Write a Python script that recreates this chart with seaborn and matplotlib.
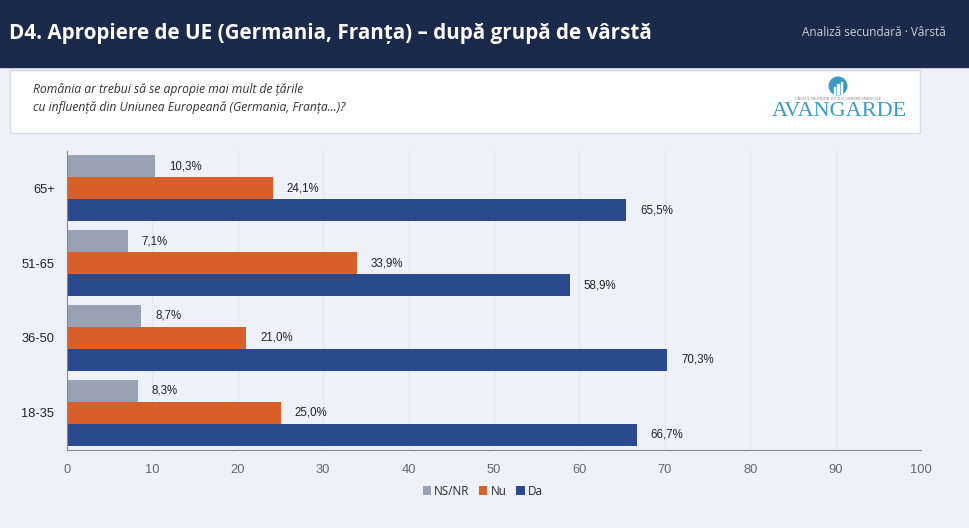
import matplotlib
matplotlib.use('agg')
import matplotlib.pyplot as plt
from matplotlib.patches import Rectangle, Ellipse
import seaborn as sns
import pandas as pd

# data
groups = ['65+', '51-65', '36-50', '18-35']
answers = ['NS/NR', 'Nu', 'Da']
ns_nr = [10.3, 7.1, 8.7, 8.3]
nu = [24.1, 33.9, 21.0, 25.0]
da = [65.5, 58.9, 70.3, 66.7]
x_ticks = list(range(0, 101, 10))

colors = ['#98a2b4', '#d95f2a', '#294a8c']
bg = '#eef2f8'
navy = '#1b2a4a'
teal = '#3a9bc4'

rows = []
for i, g in enumerate(groups):
    for a, vals in zip(answers, [ns_nr, nu, da]):
        rows.append({'grupa': g, 'raspuns': a, 'procent': vals[i]})
df = pd.DataFrame(rows)

sns.set_style('white')
plt.rcParams['font.family'] = ['Liberation Sans', 'DejaVu Sans']
opensans = ['Open Sans', 'DejaVu Sans']

fig = plt.figure(figsize=(9.7, 5.28), dpi=100)
fig.patch.set_facecolor(bg)

# header band
fig.patches.append(Rectangle((0, 1 - 67 / 528), 1, 67 / 528, transform=fig.transFigure,
                             color=navy, zorder=0))
fig.text(9 / 970, 1 - 33 / 528, 'D4. Apropiere de UE (Germania, Franța) – după grupă de vârstă',
         color='white', fontsize=14.9, fontweight='bold', family=opensans,
         va='center', ha='left')
fig.text(946 / 970, 1 - 33 / 528, 'Analiză secundară · Vârstă', color='#c9cfdb', fontsize=8.5,
         family=opensans, va='center', ha='right')

# question box
fig.patches.append(Rectangle((10 / 970, 1 - 133 / 528), 910 / 970, 63 / 528, transform=fig.transFigure,
                             facecolor='white', edgecolor='#d6dbe4', lw=1, zorder=0))
fig.text(33 / 970, 1 - 90 / 528, 'România ar trebui să se apropie mai mult de țările',
         color='#333333', fontsize=8.7, style='italic', family=opensans, va='center')
fig.text(33 / 970, 1 - 108 / 528, 'cu influență din Uniunea Europeană (Germania, Franța...)?',
         color='#333333', fontsize=8.7, style='italic', family=opensans, va='center')

# logo
fig.patches.append(Ellipse((838 / 970, 1 - 86 / 528), 19 / 970, 19 / 528, transform=fig.transFigure,
                           facecolor=teal, edgecolor='none', zorder=1))
for dx, h in [(-3.5, 7), (0, 10), (3.5, 12)]:
    fig.patches.append(Rectangle(((838 + dx - 0.9) / 970, 1 - 94 / 528), 1.8 / 970, h / 528,
                                 transform=fig.transFigure, color='white', zorder=2))
fig.text(838 / 970, 1 - 99.5 / 528, 'GRUPUL DE STUDII SOCIO-COMPORTAMENTALE', color='#777777',
         fontsize=2.8, family='Liberation Serif', ha='center', va='center')
fig.text(839 / 970, 1 - 111 / 528, 'AVANGARDE', color=teal, fontsize=16,
         family='Liberation Serif', ha='center', va='center')

ax = fig.add_axes([67 / 970, 1 - 450 / 528, 854 / 970, 299 / 528])
ax.set_facecolor(bg)
sns.barplot(data=df, y='grupa', x='procent', hue='raspuns', order=groups, hue_order=answers,
            palette=colors, orient='h', width=0.88, ax=ax, saturation=1, legend=True,
            linewidth=0)

for cont in ax.containers:
    ax.bar_label(cont, labels=[f'{v:.1f}%'.replace('.', ',') for v in cont.datavalues],
                 padding=10, fontsize=8.3, color='#222222')

ax.set_xlim(0, 100)
ax.set_xticks(x_ticks)
ax.set_ylim(len(groups) - 0.5, -0.5)
ax.set_yticks([-0.5 + i for i in range(len(groups) + 1)], minor=True)
ax.tick_params(axis='y', which='minor', length=5, color='#888888', direction='out')
ax.tick_params(axis='y', which='major', length=0, labelsize=9.3, labelcolor='#222222', pad=9)
ax.tick_params(axis='x', length=4, color='#888888', labelsize=9.3, labelcolor='#666666', pad=6)
ax.xaxis.grid(True, color='#e2e6ee', lw=0.8)
ax.set_axisbelow(True)
for s in ['top', 'right']:
    ax.spines[s].set_visible(False)
for s in ['left', 'bottom']:
    ax.spines[s].set_color('#888888')
    ax.spines[s].set_linewidth(0.8)
ax.set_xlabel('')
ax.set_ylabel('')

handles, labels = ax.get_legend_handles_labels()
ax.legend(handles, labels, loc='center', bbox_to_anchor=(0.487, -0.138), ncol=3, frameon=False,
          handlelength=0.7, handleheight=0.7, handletextpad=0.3, columnspacing=0.8,
          prop={'family': opensans, 'size': 8.5})

fig.savefig('out.png', dpi=100, facecolor=bg)
